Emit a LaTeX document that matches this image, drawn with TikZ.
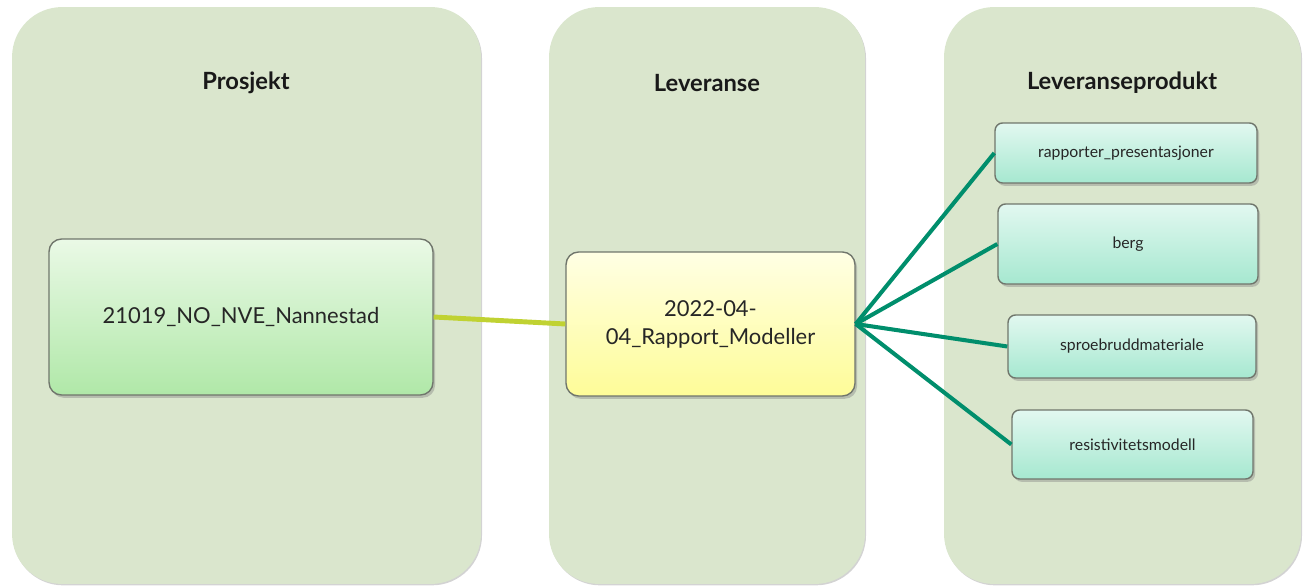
\documentclass[tikz,border=0pt]{standalone}
\usepackage{fontspec}
\setmainfont{Lato}
\usepackage{tikz}
\usetikzlibrary{positioning, shadows}
\definecolor{lanegreen}{RGB}{218,230,205}
\definecolor{linkolive}{RGB}{192,210,50}
\definecolor{linkteal}{RGB}{0,142,108}
\definecolor{boxedge}{RGB}{112,118,108}
\definecolor{projtop}{RGB}{234,249,230}
\definecolor{projbot}{RGB}{176,232,168}
\definecolor{levtop}{RGB}{255,255,228}
\definecolor{levbot}{RGB}{254,252,152}
\definecolor{prodtop}{RGB}{226,248,240}
\definecolor{prodbot}{RGB}{166,232,208}

\begin{document}
\begin{tikzpicture}[
    x=0.02cm, y=-0.02cm,
    lane/.style={rectangle, rounded corners=1cm, fill=lanegreen, draw=none,
                 drop shadow={shadow xshift=0.6pt, shadow yshift=-0.8pt, opacity=0.35}},
    title/.style={font=\bfseries\fontsize{13.5}{16}\selectfont, text=black!90},
    item/.style={rectangle, rounded corners=0.25cm, draw=boxedge, thick,
                 align=center, inner sep=0pt, text=black!85,
                 drop shadow={shadow xshift=1.2pt, shadow yshift=-1.6pt, opacity=0.4}},
    proj/.style={item, top color=projtop, bottom color=projbot,
                 font=\fontsize{12.5}{16}\selectfont},
    lev/.style={item, top color=levtop, bottom color=levbot,
                font=\fontsize{12.5}{16}\selectfont},
    prod/.style={item, rounded corners=0.15cm, top color=prodtop, bottom color=prodbot,
                 font=\fontsize{9}{11}\selectfont},
]
    \useasboundingbox (0,0) rectangle (1309,587);

    % Lanes
    \node[lane, minimum width=9.38cm, minimum height=11.54cm] (laneA) at (246.5,295.5) {};
    \node[lane, minimum width=6.32cm, minimum height=11.54cm] (laneB) at (707,295.5) {};
    \node[lane, minimum width=7.14cm, minimum height=11.54cm] (laneC) at (1122.5,295.5) {};

    \node[title] (tA) at (246,83) {Prosjekt};
    \node[title] (tB) at (707,83) {Leveranse};
    \node[title] (tC) at (1122,83) {Leveranseprodukt};

    % Items
    \node[proj, minimum width=7.68cm, minimum height=3.12cm] (nve) at (241,317) {21019\_NO\_NVE\_Nannestad};
    \node[lev, minimum width=5.78cm, minimum height=2.88cm] (rapp) at (710.5,324) {2022-04-\\04\_Rapport\_Modeller};

    \node[prod, minimum width=5.24cm, minimum height=1.2cm] (pres) at (1126,153) {rapporter\_presentasjoner};
    \node[prod, minimum width=5.2cm, minimum height=1.6cm] (berg) at (1128,244) {berg};
    \node[prod, minimum width=4.96cm, minimum height=1.26cm] (sprob) at (1132,346.5) {sproebruddmateriale};
    \node[prod, minimum width=4.82cm, minimum height=1.38cm] (resist) at (1132.5,444.5) {resistivitetsmodell};

    % Connections
    \draw[linkolive, line width=2.8pt] (nve.east) -- (rapp.west);
    \foreach \p in {pres, berg, sprob, resist}
        \draw[linkteal, line width=2.3pt] (rapp.east) -- (\p.west);
\end{tikzpicture}
\end{document}
